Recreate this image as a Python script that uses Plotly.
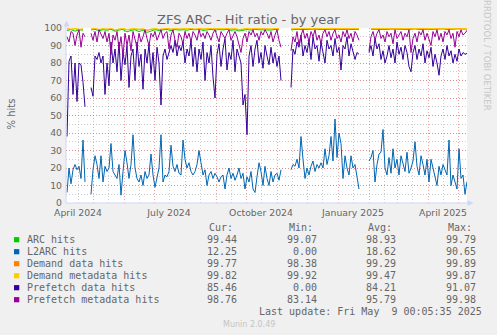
import pandas as pd
import plotly.graph_objects as go

# ---- data: 2-day samples starting 2024-04-05 (None = no data) ----
prefetch_data = [
    38, 81, 84, 62, 80, 58, 80, 79, 69, 55,
    None, None, 66, 61, 84, 82, 86, 80, 84, 62,
    80, 67, 92, 80, 88, 75, 92, 70, 86, 79,
    90, 66, 84, 88, 70, 92, 78, 85, 65, 88,
    80, 91, 74, 86, 70, 89, 80, 56, 84, 88,
    82, 86, 90, 86, 93, 84, 90, 87, 92, 80,
    88, 84, 93, 78, 89, 75, 88, 82, 92, 70,
    86, 80, 90, 72, 60, 85, 91, 78, 88, 94,
    76, 86, 82, 93, 75, 88, 84, 80, 56, 62,
    39, 84, 90, 78, 88, 93, 80, 86, 77, 90,
    84, 79, 89, 80, 86, 78, 84, 70, None, None,
    None, None, 66, 88, 85, 92, 89, 96, 84, 90,
    86, 93, 82, 95, 88, 90, 81, 92, 86, 80,
    93, 88, 90, 84, 94, 86, 89, 76, 90, 88,
    95, 84, 91, 87, 82, 86, 85, None, None, None,
    None, 86, 90, 84, 94, 88, 91, 82, 87, 80,
    84, 90, 83, 88, 80, 92, 85, 89, 82, 90,
    86, 78, 75, 86, 90, 82, 88, 84, 91, 80,
    87, 83, 89, 78, 85, 80, 73, 84, 88, 82,
    90, 84, 87, 80, 85, 81, 88, 84, 86, 85,
    85.46,
]

l2arc_hits = [
    6, 20, 11, 19, 22, 19, 21, 14, 36, 12,
    None, None, 5, 19, 27, 22, 14, 27, 12, 21,
    18, 20, 34, 18, 16, 14, 22, 4.5, 18, 30,
    23, 14, 22, 39, 20, 14, 12, 16, 10, 18,
    14, 16, 28, 16, 9, 14, 20, 39, 12, 16,
    15, 18, 33, 21, 18, 22, 17, 16, 36, 25,
    20, 23, 18, 16, 18, 22, 30, 23, 16, 19,
    10, 16, 18, 14, 17, 15, 12, 15, 16, 8,
    16, 20, 14, 17, 13, 16, 20, 14, 17, 8,
    15, 12, 18, 8, 6, 15, 23, 18, 10, 21,
    14, 10, 18, 12, 16, 17, 13, 19, None, None,
    None, None, 19, 22, 21, 25, 20, 38, 25, 14,
    20, 16, 21, 24, 18, 22, 20, 23, 20, 31,
    22, 27, 38, 24, 48, 26, 40, 34, 14, 27,
    20, 16, 27, 20, 22, 16, 8, None, None, None,
    None, 24, 26, 30, 12, 22, 28, 29, 42, 20,
    16, 26, 17, 31, 20, 25, 16, 27, 22, 18,
    29, 17, 20, 24, 35, 21, 16, 27, 22, 16,
    25, 12, 25, 20, 16, 10, 21, 16, 22, 19,
    16, 36, 10, 16, 12, 8, 31, 14, 16, 5,
    12.25,
]

prefetch_meta = [
    95, 92, 98, 97, 90, 96, 99, 89, 97, 95,
    None, None, 97, 93, 98, 92, 99, 96, 94, 98,
    92, 97, 85, 96, 93, 98, 88, 95, 84, 97,
    90, 96, 87, 98, 93, 89, 97, 92, 95, 99,
    94, 90, 97, 95, 98, 93, 96, 99, 94, 97,
    98, 88, 96, 99, 93, 89, 97, 95, 91, 98,
    94, 97, 92, 98, 96, 93, 99, 95, 97, 94,
    98, 96, 93, 97, 99, 95, 92, 98, 96, 94,
    97, 99, 93, 96, 98, 95, 91, 86, 94, 97,
    92, 98, 96, 99, 95, 97, 93, 98, 96, 99,
    97, 94, 98, 92, 96, 99, 93, 89, None, None,
    None, None, 87, 95, 92, 98, 90, 96, 99, 94,
    97, 92, 98, 95, 99, 93, 96, 91, 97, 99,
    95, 98, 93, 97, 99, 94, 96, 92, 98, 95,
    99, 94, 97, 92, 98, 96, 93, None, None, None,
    None, 87, 95, 98, 93, 97, 99, 94, 96, 92,
    98, 95, 97, 91, 99, 94, 96, 98, 93, 97,
    95, 99, 86, 94, 97, 92, 98, 96, 99, 93,
    97, 94, 90, 98, 95, 99, 93, 97, 92, 98,
    96, 99, 94, 97, 89, 98, 95, 99, 96, 97,
    98.76,
]

# ---- data: 4-day samples starting 2024-04-05 ----
arc_hits = [
    98.6, 99.1, 98.2, 99.0, 98.8, None, 98.9, 99.2, 98.4, 99.0,
    98.7, 99.3, 98.1, 98.9, 99.1, 97.8, 98.6, 99.0, 97.9, 98.8,
    97.5, 98.4, 99.0, 98.6, 98.9, 99.2, 98.5, 99.1, 98.8, 99.0,
    98.7, 99.2, 98.9, 99.3, 98.6, 99.0, 99.2, 98.8, 99.1, 98.9,
    99.2, 98.7, 99.0, 98.3, 98.9, 99.1, 98.8, 99.3, 99.0, 98.9,
    99.1, 98.8, 99.2, 99.0, None, None, 98.9, 99.2, 99.3, 99.1,
    99.3, 99.1, 99.4, 99.2, 99.3, 99.0, 99.4, 99.2, 99.3, 99.1,
    99.4, 99.2, 99.3, 99.1, None, None, 99.3, 99.2, 99.4, 99.3,
    99.2, 99.4, 99.3, 99.1, 99.4, 99.2, 99.3, 99.5, 99.2, 99.4,
    99.3, 99.2, 99.4, 99.3, 99.5, 99.2, 99.4, 99.3, 99.5, 99.4,
    99.44,
]

demand_data = [
    99.5, 99.2, 99.6, 98.9, 99.4, None, 99.3, 99.6, 99.0, 99.5,
    99.2, 99.6, 98.8, 99.4, 99.7, 98.9, 99.3, 99.6, 99.0, 99.4,
    98.7, 99.3, 99.6, 99.1, 99.5, 99.7, 99.2, 99.6, 99.3, 99.5,
    99.4, 99.7, 99.2, 99.6, 99.3, 99.5, 99.7, 99.4, 99.6, 99.3,
    99.6, 99.3, 99.5, 98.9, 99.4, 99.6, 99.3, 99.7, 99.5, 99.4,
    99.6, 99.3, 99.7, 99.5, None, None, 99.4, 99.6, 99.7, 99.5,
    99.7, 99.5, 99.8, 99.6, 99.7, 99.5, 99.8, 99.6, 99.7, 99.5,
    99.8, 99.6, 99.7, 99.5, None, None, 99.7, 99.6, 99.8, 99.7,
    99.6, 99.8, 99.7, 99.5, 99.8, 99.6, 99.7, 99.9, 99.6, 99.8,
    99.7, 99.6, 99.8, 99.7, 99.9, 99.6, 99.8, 99.7, 99.8, 99.8,
    99.77,
]

demand_meta = [
    99.7, 99.4, 99.8, 99.3, 99.6, None, 99.5, 99.8, 99.2, 99.7,
    99.4, 99.8, 99.1, 99.6, 99.8, 99.2, 99.5, 99.8, 99.3, 99.6,
    99.0, 99.5, 99.8, 99.3, 99.7, 99.8, 99.4, 99.7, 99.5, 99.7,
    99.6, 99.8, 99.4, 99.7, 99.5, 99.7, 99.8, 99.6, 99.7, 99.5,
    99.7, 99.5, 99.7, 99.2, 99.6, 99.8, 99.5, 99.8, 99.6, 99.5,
    99.7, 99.5, 99.8, 99.6, None, None, 99.6, 99.7, 99.8, 99.6,
    99.8, 99.6, 99.9, 99.7, 99.8, 99.6, 99.9, 99.7, 99.8, 99.6,
    99.9, 99.7, 99.8, 99.6, None, None, 99.8, 99.7, 99.9, 99.8,
    99.7, 99.9, 99.8, 99.6, 99.9, 99.7, 99.8, 99.9, 99.7, 99.9,
    99.8, 99.7, 99.9, 99.8, 99.9, 99.7, 99.9, 99.8, 99.9, 99.8,
    99.82,
]

series_names = ["ARC hits", "L2ARC hits", "Demand data hits",
                "Demand metadata hits", "Prefetch data hits", "Prefetch metadata hits"]
series_colors = ["#00CC00", "#0066B3", "#FF8000", "#FFCC00", "#330099", "#990099"]
cur_vals = ["99.44", "12.25", "99.77", "99.82", "85.46", "98.76"]
min_vals = ["99.07", "0.00", "98.38", "99.92", "0.00", "83.14"]
avg_vals = ["98.93", "18.62", "99.29", "99.47", "84.21", "95.79"]
max_vals = ["99.79", "90.65", "99.89", "99.87", "91.07", "99.98"]

x_labels = ["April 2024", "", "", "July 2024", "", "", "October 2024", "", "",
            "January 2025", "", "", "April 2025"]

START = "2024-04-05"
dates2 = pd.date_range(START, periods=len(prefetch_data), freq="2D")
dates4 = pd.date_range(START, periods=len(arc_hits), freq="4D")
month_starts = pd.date_range("2024-04-01", "2025-05-01", freq="MS")
mid_months = month_starts[:-1] + pd.Timedelta(days=15)

# ---- figure geometry (pixels) ----
W, H = 497, 335
L, R, T, B = 66, 30, 28, 132
PW, PH = W - L - R, H - T - B


def px(xp):
    return (xp - L) / PW


def py(yp):
    return (H - B - yp) / PH


TXT = "#666666"
SANS = "DejaVu Sans"
MONO = "DejaVu Sans Mono"

fig = go.Figure()
series = [
    (dates4, arc_hits), (dates2, l2arc_hits), (dates4, demand_data),
    (dates4, demand_meta), (dates2, prefetch_data), (dates2, prefetch_meta),
]
for (xs, ys), name, color in zip(series, series_names, series_colors):
    fig.add_trace(go.Scatter(
        x=xs, y=ys, mode="lines", name=name,
        line=dict(color=color, width=1), connectgaps=False,
        hoverinfo="skip", showlegend=False,
    ))

MGRID = "rgba(232,88,88,0.55)"
GRID = "rgba(143,143,143,0.45)"

fig.update_layout(
    width=W, height=H,
    margin=dict(l=L, r=R, t=T, b=B),
    paper_bgcolor="#F0F0F0", plot_bgcolor="#FFFFFF",
    font=dict(family=SANS, size=9.3, color=TXT),
    xaxis=dict(
        type="date", range=["2024-04-04", "2025-05-10"],
        tickmode="array", tickvals=mid_months, ticktext=x_labels,
        showgrid=True, gridcolor=GRID, griddash="1px,2px", gridwidth=1,
        minor=dict(tickmode="array", tickvals=month_starts, showgrid=True,
                   gridcolor=MGRID, griddash="1px,2px", gridwidth=1),
        showline=False, zeroline=False, ticks="", ticklabelstandoff=3,
        tickfont=dict(family=SANS, size=9.3, color=TXT),
    ),
    yaxis=dict(
        range=[0, 100], tickmode="array", tickvals=list(range(0, 101, 10)),
        showgrid=True, gridcolor=MGRID, griddash="1px,2px", gridwidth=1,
        minor=dict(dtick=5, showgrid=True, gridcolor=GRID,
                   griddash="1px,2px", gridwidth=1),
        showline=False, zeroline=False, ticks="", ticklabelstandoff=3,
        tickfont=dict(family=SANS, size=9.3, color=TXT),
    ),
)

AXIS = "#CFD6F8"
shapes = [
    # axes
    dict(type="line", xref="paper", yref="paper", x0=0, x1=px(469), y0=0, y1=0,
         line=dict(color=AXIS, width=1)),
    dict(type="line", xref="paper", yref="paper", x0=0, x1=0, y0=0, y1=py(24),
         line=dict(color=AXIS, width=1)),
    # arrow heads
    dict(type="path", xref="paper", yref="paper", fillcolor=AXIS, line=dict(width=0),
         path=f"M {px(63.5)} {py(26.5)} L {px(66.5)} {py(20.5)} L {px(69.5)} {py(26.5)} Z"),
    dict(type="path", xref="paper", yref="paper", fillcolor=AXIS, line=dict(width=0),
         path=f"M {px(467.5)} {py(200)} L {px(473.5)} {py(203)} L {px(467.5)} {py(206)} Z"),
]

annotations = [
    dict(text="ZFS ARC - Hit ratio - by year", x=px(248.5), y=py(19.5),
         font=dict(family=SANS, size=13, color=TXT)),
    dict(text="% hits", x=px(10.5), y=py(114), textangle=-90,
         font=dict(family=SANS, size=10, color=TXT)),
    dict(text="RRDTOOL / TOBI OETIKER", x=px(487), y=py(55), textangle=90,
         font=dict(family=SANS, size=8.6, color="#C8C8C8")),
    dict(text="Munin 2.0.49", x=px(248.7), y=py(324),
         font=dict(family=SANS, size=8, color="#C4C4C4")),
    dict(text="Last update: Fri May  9 00:05:35 2025".replace("  ", "\u00a0\u00a0"),
         x=px(482.5), y=py(311.7), xanchor="right",
         font=dict(family=MONO, size=10, color=TXT)),
]

head_x = [208.3, 287.7, 366.7, 446.7]
end_x = [238.3, 317.6, 397, 476.7]
for hx, head in zip(head_x, ["Cur:", "Min:", "Avg:", "Max:"]):
    annotations.append(dict(text=head, x=px(hx), y=py(227.7), xanchor="left",
                            font=dict(family=MONO, size=10, color=TXT)))

for i, (name, color) in enumerate(zip(series_names, series_colors)):
    yc = 239.7 + 12 * i
    shapes.append(dict(type="rect", xref="paper", yref="paper",
                       x0=px(14), x1=px(19.3), y0=py(yc + 2.6), y1=py(yc - 2.6),
                       fillcolor=color, line=dict(width=0)))
    annotations.append(dict(text=name, x=px(26), y=py(yc), xanchor="left",
                            font=dict(family=MONO, size=10, color=TXT)))
    for ex, col in zip(end_x, [cur_vals, min_vals, avg_vals, max_vals]):
        annotations.append(dict(text=col[i], x=px(ex), y=py(yc), xanchor="right",
                                font=dict(family=MONO, size=10, color=TXT)))

for a in annotations:
    a.update(xref="paper", yref="paper", showarrow=False, borderpad=0)
    a.setdefault("xanchor", "center")
    a.setdefault("yanchor", "middle")

fig.update_layout(shapes=shapes, annotations=annotations)
fig.write_html("out.html", config={"displayModeBar": False})
